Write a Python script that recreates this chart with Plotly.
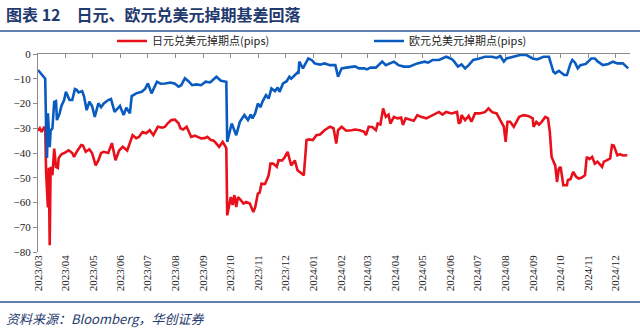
import plotly.graph_objects as go

# ---------------- data ----------------
jpy_name = "日元兑美元掉期点(pips)"
eur_name = "欧元兑美元掉期点(pips)"

jpy_dates = [
    "2023-03-01", "2023-03-03", "2023-03-05", "2023-03-08", "2023-03-09", "2023-03-10", "2023-03-12",
    "2023-03-13", "2023-03-14", "2023-03-15", "2023-03-17", "2023-03-19", "2023-03-21", "2023-03-23",
    "2023-03-24", "2023-03-27", "2023-03-30", "2023-04-04", "2023-04-08", "2023-04-10", "2023-04-13",
    "2023-04-18", "2023-04-20", "2023-04-23", "2023-04-27", "2023-04-30", "2023-05-04", "2023-05-07",
    "2023-05-10", "2023-05-13", "2023-05-18", "2023-05-22", "2023-05-26", "2023-05-30", "2023-06-03",
    "2023-06-08", "2023-06-14", "2023-06-18", "2023-06-21", "2023-06-25", "2023-06-29", "2023-07-03",
    "2023-07-07", "2023-07-12", "2023-07-17", "2023-07-20", "2023-07-23", "2023-07-27", "2023-07-31",
    "2023-08-04", "2023-08-06", "2023-08-09", "2023-08-13", "2023-08-15", "2023-08-18", "2023-08-22",
    "2023-08-25", "2023-08-29", "2023-09-02", "2023-09-05", "2023-09-09", "2023-09-12", "2023-09-15",
    "2023-09-18", "2023-09-22", "2023-09-24", "2023-09-26", "2023-09-27", "2023-09-29", "2023-10-01",
    "2023-10-03", "2023-10-05", "2023-10-07", "2023-10-09", "2023-10-12", "2023-10-15", "2023-10-18",
    "2023-10-22", "2023-10-26", "2023-10-28", "2023-10-31", "2023-11-02", "2023-11-04", "2023-11-08",
    "2023-11-12", "2023-11-14", "2023-11-17", "2023-11-21", "2023-11-23", "2023-11-27", "2023-11-30",
    "2023-12-03", "2023-12-07", "2023-12-11", "2023-12-14", "2023-12-18", "2023-12-21", "2023-12-24",
    "2023-12-27", "2023-12-31", "2024-01-04", "2024-01-08", "2024-01-13", "2024-01-19", "2024-01-23",
    "2024-01-26", "2024-01-28", "2024-02-01", "2024-02-06", "2024-02-12", "2024-02-16", "2024-02-21",
    "2024-02-26", "2024-02-28", "2024-03-02", "2024-03-06", "2024-03-10", "2024-03-12", "2024-03-15",
    "2024-03-18", "2024-03-21", "2024-03-24", "2024-03-26", "2024-03-30", "2024-04-03", "2024-04-07",
    "2024-04-09", "2024-04-12", "2024-04-16", "2024-04-21", "2024-04-25", "2024-04-29", "2024-05-05",
    "2024-05-08", "2024-05-12", "2024-05-16", "2024-05-19", "2024-05-23", "2024-05-27", "2024-06-02",
    "2024-06-08", "2024-06-10", "2024-06-12", "2024-06-13", "2024-06-17", "2024-06-21", "2024-06-24",
    "2024-06-28", "2024-07-03", "2024-07-09", "2024-07-13", "2024-07-17", "2024-07-22", "2024-07-26",
    "2024-07-30", "2024-08-01", "2024-08-03", "2024-08-06", "2024-08-10", "2024-08-16", "2024-08-21",
    "2024-08-26", "2024-08-31", "2024-09-01", "2024-09-04", "2024-09-07", "2024-09-10", "2024-09-14",
    "2024-09-17", "2024-09-19", "2024-09-21", "2024-09-25", "2024-09-27", "2024-09-29", "2024-10-01",
    "2024-10-04", "2024-10-08", "2024-10-09", "2024-10-12", "2024-10-15", "2024-10-18", "2024-10-21",
    "2024-10-24", "2024-10-28", "2024-10-30", "2024-11-02", "2024-11-05", "2024-11-08", "2024-11-11",
    "2024-11-16", "2024-11-18", "2024-11-21", "2024-11-25", "2024-11-27", "2024-11-29", "2024-12-03",
    "2024-12-06", "2024-12-09", "2024-12-14",
]
jpy_values = [
    -31, -30, -31.5, -29.4, -30, -48, -62,
    -46, -77.3, -45.6, -49, -38.2, -45.6, -46,
    -42, -40.5, -40, -38.9, -40, -41.6, -39.5,
    -36.8, -37, -39.5, -38.5, -40, -45, -43,
    -40, -39.5, -40, -36, -42.9, -39, -37.5,
    -39, -32.8, -34, -33.5, -31.5, -32, -30.8,
    -32.8, -29.4, -29.8, -29.4, -28, -26.7, -26.5,
    -28, -30, -30.5, -29.4, -31, -33.5, -33,
    -33.5, -34.1, -34, -33.5, -34.8, -35, -36.2,
    -37.5, -35.5, -37, -38, -65.2, -61.8, -57.8,
    -61, -57, -61.8, -57.8, -59, -60.4, -59.8,
    -60.4, -63.8, -62, -56.4, -56, -52.4, -52.5,
    -49, -44.3, -44.3, -45.6, -42.9, -43, -41.6,
    -39.5, -45, -43, -47, -48.3, -49, -34.8,
    -34.5, -34.8, -32.8, -32.5, -30.8, -29.4, -30,
    -36.2, -30.8, -29.4, -31, -30.8, -30.5, -30.8,
    -31.4, -32.8, -29.4, -29.5, -30.8, -28.1, -28.5,
    -22, -25.4, -24.5, -28.1, -25.4, -26, -25.7,
    -28.7, -26, -26.5, -27, -24.7, -25.4, -26,
    -25.4, -24.7, -23.8, -23.4, -24.5, -23.4, -24,
    -23.4, -28.1, -27.4, -24.7, -26.7, -25, -27.4,
    -24, -24, -23.5, -22, -23.5, -24, -26.7,
    -29.4, -35.5, -27.4, -27.4, -29.4, -25.4, -24.7,
    -25, -26, -29.4, -27.4, -28.5, -27.4, -25.4,
    -26, -31.4, -41.6, -45, -51.7, -46.3, -45.6,
    -53, -53, -51, -50.5, -47.6, -49.5, -50.3,
    -50, -49, -41.6, -42.5, -41.6, -44.3, -43.5,
    -45.6, -43.5, -43, -42.2, -36.8, -37, -40.9,
    -40.5, -41, -40.9,
]

eur_dates = [
    "2023-03-01", "2023-03-03", "2023-03-06", "2023-03-08", "2023-03-09", "2023-03-10", "2023-03-11",
    "2023-03-12", "2023-03-13", "2023-03-14", "2023-03-15", "2023-03-17", "2023-03-19", "2023-03-21",
    "2023-03-22", "2023-03-25", "2023-03-27", "2023-03-30", "2023-04-01", "2023-04-05", "2023-04-08",
    "2023-04-11", "2023-04-13", "2023-04-15", "2023-04-19", "2023-04-21", "2023-04-24", "2023-04-27",
    "2023-04-30", "2023-05-03", "2023-05-07", "2023-05-10", "2023-05-13", "2023-05-18", "2023-05-21",
    "2023-05-25", "2023-05-31", "2023-06-04", "2023-06-07", "2023-06-11", "2023-06-13", "2023-06-18",
    "2023-06-24", "2023-06-28", "2023-07-01", "2023-07-05", "2023-07-11", "2023-07-15", "2023-07-20",
    "2023-07-26", "2023-07-31", "2023-08-04", "2023-08-07", "2023-08-11", "2023-08-15", "2023-08-19",
    "2023-08-24", "2023-08-29", "2023-09-03", "2023-09-08", "2023-09-11", "2023-09-15", "2023-09-20",
    "2023-09-24", "2023-09-26", "2023-09-27", "2023-09-30", "2023-10-02", "2023-10-04", "2023-10-07",
    "2023-10-11", "2023-10-16", "2023-10-20", "2023-10-23", "2023-10-25", "2023-10-28", "2023-10-31",
    "2023-11-03", "2023-11-05", "2023-11-09", "2023-11-12", "2023-11-15", "2023-11-19", "2023-11-22",
    "2023-11-24", "2023-11-28", "2023-12-02", "2023-12-05", "2023-12-07", "2023-12-11", "2023-12-14",
    "2023-12-15", "2023-12-16", "2023-12-20", "2023-12-23", "2023-12-26", "2023-12-30", "2024-01-02",
    "2024-01-08", "2024-01-13", "2024-01-19", "2024-01-25", "2024-01-28", "2024-02-01", "2024-02-06",
    "2024-02-12", "2024-02-16", "2024-02-20", "2024-02-26", "2024-02-29", "2024-03-04", "2024-03-10",
    "2024-03-13", "2024-03-17", "2024-03-21", "2024-03-25", "2024-03-30", "2024-04-04", "2024-04-10",
    "2024-04-16", "2024-04-20", "2024-04-25", "2024-05-03", "2024-05-07", "2024-05-12", "2024-05-19",
    "2024-05-27", "2024-06-02", "2024-06-05", "2024-06-09", "2024-06-13", "2024-06-17", "2024-06-21",
    "2024-06-26", "2024-07-03", "2024-07-09", "2024-07-17", "2024-07-22", "2024-07-26", "2024-07-30",
    "2024-08-02", "2024-08-10", "2024-08-17", "2024-08-24", "2024-08-31", "2024-09-05", "2024-09-12",
    "2024-09-18", "2024-09-21", "2024-09-23", "2024-09-25", "2024-09-29", "2024-10-05", "2024-10-08",
    "2024-10-12", "2024-10-14", "2024-10-17", "2024-10-20", "2024-10-23", "2024-10-29", "2024-11-04",
    "2024-11-08", "2024-11-11", "2024-11-17", "2024-11-23", "2024-11-28", "2024-12-03", "2024-12-09",
    "2024-12-13", "2024-12-15",
]
eur_values = [
    -6.5, -7.5, -8.5, -9.7, -10, -30, -42,
    -24, -31, -37.6, -31, -30, -19.3, -19,
    -26.7, -24, -21, -18.6, -15.3, -18.6, -18.6,
    -14.2, -14.5, -15.5, -15, -17, -22.7, -19.3,
    -21, -25.4, -19.9, -21.5, -20, -18.6, -18.2,
    -23.4, -21, -24.7, -21.7, -24, -17, -15.9,
    -15.3, -14, -11.9, -15.9, -11.2, -12, -11.9,
    -11.5, -12, -13.2, -12.6, -9.8, -11, -12.6,
    -12.3, -12.6, -11.2, -11.5, -10.5, -9.2, -10.8,
    -11.2, -11.2, -35.5, -30.8, -28.1, -30, -32.8,
    -27.4, -24.7, -26.7, -24.5, -26, -24, -20,
    -21.5, -19.3, -16.6, -18, -13.9, -15, -13.5,
    -15.3, -11.9, -11, -9.2, -10, -8.5, -7.5,
    -8, -3.1, -5.8, -4, -1.8, -2.5, -3.8,
    -4.3, -3.8, -4.5, -4.5, -9.2, -5.8, -5.5,
    -5.2, -5, -5.8, -5.8, -6.2, -5.5, -5.5,
    -4.5, -3.1, -4.5, -4, -3.1, -4.5, -5.1,
    -5.1, -4.5, -3.8, -3.1, -3.5, -2.4, -2.4,
    -1.1, -2, -3.1, -5.1, -4.2, -5.8, -4.5,
    -2.4, -1.8, -1.1, -1.1, -1.6, -0.8, -3.1,
    -1.8, -1.1, -0.4, -0.4, -1.8, -2.2, -1.1,
    -1.1, -4.5, -7.2, -7.8, -6.8, -8.5, -8.5,
    -3.8, -2.4, -3.5, -5.8, -4.5, -4, -1.8,
    -1.8, -3, -4.5, -4, -3.1, -3.8, -3.8,
    -5.1, -5.8,
]

month_ticks = [
    "2023-03-01", "2023-04-01", "2023-05-01", "2023-06-01", "2023-07-01", "2023-08-01",
    "2023-09-01", "2023-10-01", "2023-11-01", "2023-12-01", "2024-01-01", "2024-02-01",
    "2024-03-01", "2024-04-01", "2024-05-01", "2024-06-01", "2024-07-01", "2024-08-01",
    "2024-09-01", "2024-10-01", "2024-11-01", "2024-12-01",
]
x_range = ["2023-03-01", "2024-12-17"]

title_text = "图表 12　日元、欧元兑美元掉期基差回落"
source_text = "资料来源：Bloomberg，华创证券"

# ---------------- styling ----------------
RED = "#E8111B"
BLUE = "#0A5BC0"
AXIS = "#8C8C8C"
NAVY = "#1F3A6E"
SERIF = "Liberation Serif, Times New Roman, serif"
CJK = "Noto Sans CJK SC, sans-serif"

W, H = 640, 328
L, R, T, B = 38, 10, 54, 76
PW, PH = W - L - R, H - T - B


def px_x(p):
    return (p - L) / PW


def px_y(p):
    return (H - B - p) / PH


legend_common = dict(
    orientation="h", xanchor="left", yanchor="middle",
    font=dict(family=CJK, size=11, color="#222222"),
    bgcolor="rgba(0,0,0,0)", itemwidth=30,
)

fig = go.Figure()
fig.add_trace(go.Scatter(
    x=jpy_dates, y=jpy_values, name=jpy_name, mode="lines",
    line=dict(color=RED, width=2.6), legend="legend",
))
fig.add_trace(go.Scatter(
    x=eur_dates, y=eur_values, name=eur_name, mode="lines",
    line=dict(color=BLUE, width=2.6), legend="legend2",
))
# invisible trace so the top (zero-line) axis with tick marks is drawn
fig.add_trace(go.Scatter(
    x=[x_range[0]], y=[None], xaxis="x2", showlegend=False, hoverinfo="skip",
    mode="lines",
))

fig.update_layout(
    width=W, height=H,
    margin=dict(l=L, r=R, t=T, b=B),
    paper_bgcolor="white", plot_bgcolor="white",
    showlegend=True,
    legend=dict(x=px_x(112), y=px_y(41), **legend_common),
    legend2=dict(x=px_x(369), y=px_y(41), **legend_common),
    xaxis=dict(
        type="date", range=x_range,
        tickvals=month_ticks, tickformat="%Y/%m", tickangle=-90,
        showline=False, showgrid=False, zeroline=False, ticks="",
        tickfont=dict(family=SERIF, size=11, color="#222222"),
    ),
    xaxis2=dict(
        type="date", range=x_range, overlaying="x", side="top", anchor="y",
        tickvals=month_ticks, showticklabels=False,
        showline=True, linecolor=AXIS, linewidth=1,
        ticks="inside", ticklen=4, tickcolor=AXIS, showgrid=False, zeroline=False,
    ),
    yaxis=dict(
        range=[-80, 0], dtick=10, showgrid=False, zeroline=False,
        showline=True, linecolor=AXIS, linewidth=1,
        ticks="outside", ticklen=4, tickcolor=AXIS,
        tickfont=dict(family=SERIF, size=11, color="#222222"),
    ),
    annotations=[
        dict(text=title_text, xref="paper", yref="paper", x=px_x(4), y=px_y(14),
             xanchor="left", yanchor="middle", showarrow=False,
             font=dict(family=CJK, size=16, color=NAVY, weight="bold")),
        dict(text=source_text, xref="paper", yref="paper", x=px_x(4), y=px_y(318),
             xanchor="left", yanchor="middle", showarrow=False,
             font=dict(family=CJK, size=13, color=NAVY, style="italic")),
    ],
    shapes=[
        dict(type="line", xref="paper", yref="paper", x0=px_x(0), x1=px_x(W),
             y0=px_y(31), y1=px_y(31), line=dict(color="#2E5597", width=1.5)),
        dict(type="line", xref="paper", yref="paper", x0=px_x(0), x1=px_x(W),
             y0=px_y(302), y1=px_y(302), line=dict(color="#2E5597", width=1.5)),
    ],
)

fig.write_html("out.html")
